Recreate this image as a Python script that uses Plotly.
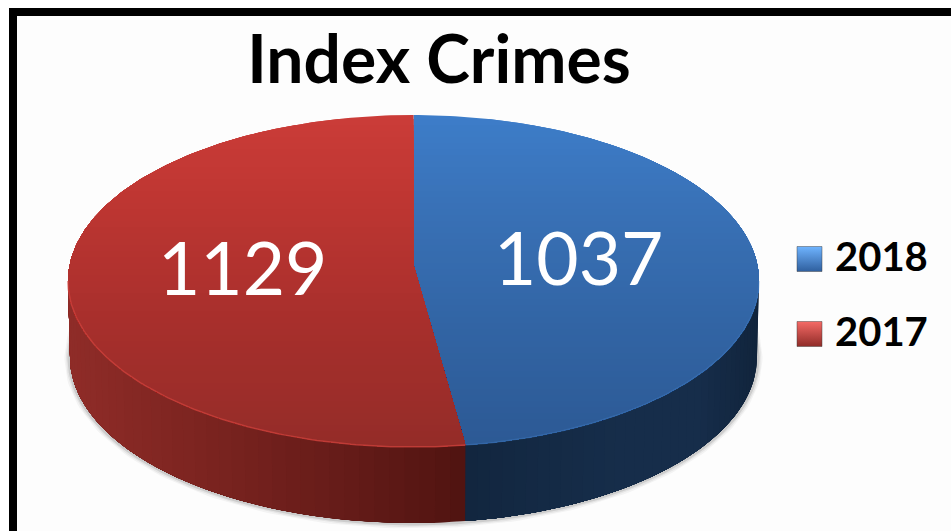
import numpy as np
import plotly.graph_objects as go

TITLE = "Index Crimes"
CATEGORIES = ["2018", "2017"]
VALUES = [1037, 1129]

# geometry of the drawing, in page pixels
CX, CY, RX, RY = 413.5, 281.0, 345.5, 166.0
APEX_Y = 265.0
DEPTH = 76.0
BOTTOM_RX = 343.5
TURN = np.radians(1.0)  # small perspective turn of the front of the disc


def lerp_color(stops, v):
    xs = [s[0] for s in stops]
    out = [np.interp(v, xs, [s[1][i] for s in stops]) for i in range(3)]
    return "rgb(%d,%d,%d)" % tuple(int(round(c)) for c in out)


TOP_STOPS = {
    "2018": [(115, (61, 125, 201)), (200, (57, 114, 184)), (320, (50, 101, 165)), (447, (44, 89, 148))],
    "2017": [(115, (203, 60, 56)), (200, (190, 54, 50)), (320, (168, 47, 44)), (447, (148, 44, 40))],
}
SIDE_STOPS = {
    "2018": [(465, (18, 38, 63)), (620, (22, 45, 74)), (700, (22, 45, 74)), (760, (17, 36, 60))],
    "2017": [(68, (143, 44, 40)), (200, (124, 36, 32)), (350, (100, 27, 24)), (465, (80, 20, 17))],
}

total = sum(VALUES)
fracs = [v / total for v in VALUES]
starts = np.cumsum([0] + fracs[:-1]) * 2 * np.pi
ends = np.cumsum(fracs) * 2 * np.pi
starts = starts - TURN * np.sin(starts / 2)
ends = ends - TURN * np.sin(ends / 2)


def rim(t, rx=RX, cy=CY):
    return CX + rx * np.sin(t), cy - RY * np.cos(t)


def clip_below(xs, ys, y0):
    """Keep the part of a polygon that lies at or below page height y0."""
    ox, oy = [], []
    n = len(xs)
    for i in range(n):
        x1, y1, x2, y2 = xs[i], ys[i], xs[(i + 1) % n], ys[(i + 1) % n]
        if y1 >= y0:
            ox.append(x1)
            oy.append(y1)
        if (y1 >= y0) != (y2 >= y0):
            f = (y0 - y1) / (y2 - y1)
            ox.append(x1 + f * (x2 - x1))
            oy.append(y0)
    return ox, oy


def poly(fig, xs, ys, color):
    fig.add_trace(go.Scatter(
        x=list(xs) + [xs[0]], y=list(ys) + [ys[0]], mode="lines", fill="toself",
        fillcolor=color, line=dict(width=0), hoverinfo="skip", showlegend=False))


fig = go.Figure()

# soft shadow below the wall
ts = np.linspace(np.radians(75), np.radians(285), 160)
sx, sy = rim(ts, BOTTOM_RX + 1, CY + DEPTH + 1)
for w, a in [(9, 0.05), (6, 0.08), (3, 0.14)]:
    fig.add_trace(go.Scatter(x=sx, y=sy, mode="lines", line=dict(color=f"rgba(60,60,60,{a})", width=w),
                             hoverinfo="skip", showlegend=False))

# front wall: each strip is painted over the whole remainder, so no seams show
for cat, a, b in zip(CATEGORIES, starts, ends):
    lo, hi = max(a, np.pi / 2), min(b, 3 * np.pi / 2)
    edges = np.linspace(lo, hi, 40)
    for t1 in edges[:-1]:
        arc = np.linspace(t1, hi, 60)
        x1, y1 = rim(arc)
        x2, y2 = rim(arc[::-1], BOTTOM_RX, CY + DEPTH)
        t_mid = t1 + (edges[1] - edges[0]) / 2
        poly(fig, list(x1) + list(x2), list(y1) + list(y2), lerp_color(SIDE_STOPS[cat], rim(t_mid)[0]))

# top face, painted in bands from the top down
for cat, a, b in zip(CATEGORIES, starts, ends):
    arc = np.linspace(a, b, 200)
    ax, ay = rim(arc)
    px = [CX] + list(ax)
    py = [APEX_Y] + list(ay)
    for y0 in np.arange(CY - RY - 2, CY + RY + 2, 6):
        cx, cy = clip_below(px, py, y0)
        if len(cx) > 2:
            poly(fig, cx, cy, lerp_color(TOP_STOPS[cat], y0 + 3))

# thin highlight on the front rim of the top face
for cat, col, a, b in zip(CATEGORIES, ["rgba(70,130,200,0.35)", "rgba(205,65,60,0.75)"], starts, ends):
    ts = np.linspace(max(a, np.pi / 2), min(b, 3 * np.pi / 2), 120)
    x, y = rim(ts)
    fig.add_trace(go.Scatter(x=x, y=y, mode="lines", line=dict(color=col, width=1.5),
                             hoverinfo="skip", showlegend=False))

# slice value labels
annos = []
for v, a, b, dx, dy in zip(VALUES, starts, ends, [-4, -2], [-2, -4]):
    mid = (a + b) / 2
    annos.append(dict(x=CX + 0.49 * RX * np.sin(mid) + dx, y=APEX_Y + dy - 0.49 * RY * np.cos(mid), text=str(v),
                      showarrow=False, font=dict(family="Lato", size=73, color="#ffffff")))

# legend
SWATCH = {"2018": ("#6fb4ff", "#2f5f9e"), "2017": ("#f56a66", "#8f2c28")}
for cat, ly in zip(CATEGORIES, [259, 334]):
    c1, c2 = SWATCH[cat]
    fig.add_trace(go.Scatter(x=[809.5], y=[ly], mode="markers", hoverinfo="skip", showlegend=False,
                             marker=dict(symbol="square", size=25, color=c1,
                                         gradient=dict(type="vertical", color=c2),
                                         line=dict(color="rgba(60,60,60,0.45)", width=1))))
    annos.append(dict(x=833, y=ly - 3, text=f"<b>{cat}</b>", xanchor="left", showarrow=False,
                      font=dict(family="Lato", size=40, color="#000000")))

fig.update_layout(
    width=951, height=531, margin=dict(l=0, r=0, t=0, b=0),
    paper_bgcolor="#fdfdfd", plot_bgcolor="#fdfdfd", showlegend=False,
    title=dict(text=f"<b>{TITLE}</b>", x=439 / 951, xanchor="center", y=1 - 60 / 531, yanchor="middle",
               font=dict(family="Lato", size=66, color="#000000")),
    xaxis=dict(range=[0, 951], visible=False, fixedrange=True),
    yaxis=dict(range=[531, 0], visible=False, fixedrange=True),
    annotations=annos,
    shapes=[
        dict(type="rect", x0=9, x1=951, y0=8, y1=16, fillcolor="#000", line_width=0, layer="above"),
        dict(type="rect", x0=9, x1=17, y0=8, y1=531, fillcolor="#000", line_width=0, layer="above"),
        dict(type="rect", x0=0, x1=9, y0=0, y1=531, fillcolor="#fff", line_width=0, layer="below"),
        dict(type="rect", x0=0, x1=951, y0=0, y1=8, fillcolor="#fff", line_width=0, layer="below"),
    ],
)

fig.write_html("out.html", config={"displayModeBar": False},
               post_script="document.body.style.margin='0';document.documentElement.style.overflow='hidden';")
